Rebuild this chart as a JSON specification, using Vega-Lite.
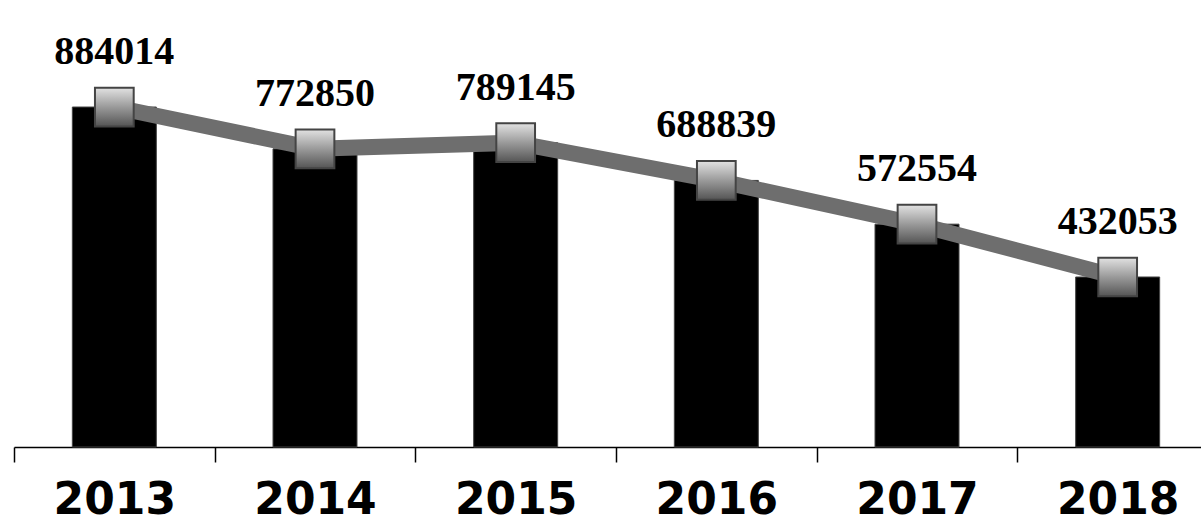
{
  "$schema": "https://vega.github.io/schema/vega-lite/v6.json",
  "width": 1204,
  "height": 447,
  "autosize": {"type": "none"},
  "padding": {"left": 14, "top": 0, "right": 0, "bottom": 78},
  "background": "white",
  "config": {"view": {"stroke": null}},
  "data": {"values": [
    {"year": "2013", "value": 884014},
    {"year": "2014", "value": 772850},
    {"year": "2015", "value": 789145},
    {"year": "2016", "value": 688839},
    {"year": "2017", "value": 572554},
    {"year": "2018", "value": 432053}
  ]},
  "encoding": {
    "x": {
      "field": "year", "type": "ordinal",
      "scale": {"paddingInner": 0, "paddingOuter": 0},
      "axis": {
        "title": null, "labelAngle": 0, "tickBand": "extent",
        "domainColor": "black", "domainWidth": 1.5,
        "tickColor": "black", "tickWidth": 1.5, "tickSize": 15,
        "labelFont": "DejaVu Sans", "labelFontWeight": "bold", "labelFontSize": 44,
        "labelColor": "black", "labelPadding": 16
      }
    },
    "y": {"field": "value", "type": "quantitative", "scale": {"domain": [-20000, 1168600], "nice": false, "zero": false}, "axis": null}
  },
  "layer": [
    {"mark": {"type": "bar", "color": "black", "width": 84, "stroke": "#444444", "strokeWidth": 1},
     "encoding": {"y2": {"datum": -20000}}},
    {"mark": {"type": "line", "color": "#6e6e6e", "strokeWidth": 16}},
    {"mark": {"type": "point", "shape": "square", "size": 1500, "filled": true, "opacity": 1,
      "color": {"gradient": "linear", "x1": 0, "y1": 0, "x2": 0, "y2": 1,
        "stops": [{"offset": 0, "color": "#e2e2e2"}, {"offset": 0.5, "color": "#9a9a9a"}, {"offset": 1, "color": "#555555"}]},
      "stroke": "#444444", "strokeWidth": 2}},
    {"mark": {"type": "text", "font": "Liberation Serif", "fontWeight": "bold", "fontSize": 40,
      "baseline": "alphabetic", "dy": -43, "color": "black"},
      "encoding": {"text": {"field": "value", "type": "quantitative", "format": "d"}}}
  ]
}
